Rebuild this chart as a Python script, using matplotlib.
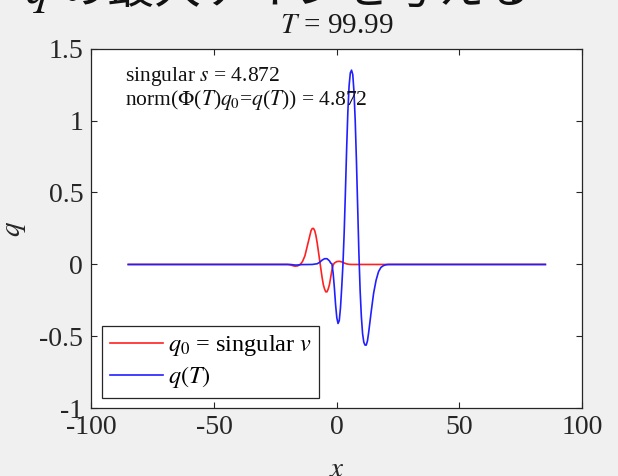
import matplotlib
matplotlib.use("Agg")
import matplotlib.pyplot as plt

# Data
x_q0 = [-85, -20, -19, -18, -17, -16, -15, -14, -13, -12, -11, -10.5, -10, -9.5, -9,
        -8.5, -8, -7.5, -7, -6.5, -6, -5.5, -5, -4.5, -4, -3.5, -3, -2.5, -2, -1.5,
        -1, 0, 1, 2, 3, 4, 5, 6, 85]
q0 = [0, 0, -0.003, -0.008, -0.012, -0.010, -0.002, 0.02, 0.06, 0.13, 0.20, 0.235, 0.25,
      0.25, 0.235, 0.20, 0.15, 0.09, 0.03, -0.03, -0.09, -0.14, -0.17, -0.19, -0.19, -0.17,
      -0.14, -0.09, -0.04, -0.005, 0.01, 0.02, 0.022, 0.018, 0.01, 0.004, 0.001, 0, 0]

x_qT = [-85, -19, -18, -17, -16, -15, -10, -8, -7, -6, -5, -4, -3, -2.5, -2, -1.5, -1,
        -0.5, 0, 0.5, 1, 1.5, 2, 2.5, 3, 3.5, 4, 4.5, 5, 5.5, 6, 6.5, 7, 7.5, 8, 8.5, 9,
        9.5, 10, 10.5, 11, 11.5, 12, 12.5, 13, 13.5, 14, 15, 16, 17, 18, 19, 20, 21, 85]
qT = [0, 0, -0.002, -0.004, -0.004, -0.001, 0, 0.005, 0.015, 0.03, 0.04, 0.04, 0.025,
      0.01, 0.005, -0.06, -0.16, -0.28, -0.37, -0.41, -0.39, -0.30, -0.16, 0.0, 0.22,
      0.50, 0.80, 1.06, 1.24, 1.33, 1.35, 1.32, 1.20, 1.00, 0.72, 0.40, 0.08, -0.18,
      -0.36, -0.48, -0.54, -0.56, -0.56, -0.53, -0.47, -0.40, -0.33, -0.20, -0.11,
      -0.05, -0.02, -0.008, -0.002, 0, 0]

s_val = 4.872
norm_val = 4.872
T_val = 99.99

x_ticks = [-100, -50, 0, 50, 100]
y_ticks = [-1, -0.5, 0, 0.5, 1, 1.5]
y_ticklabels = ["-1", "-0.5", "0", "0.5", "1", "1.5"]

plt.rcParams["font.family"] = ["Liberation Serif", "Noto Sans CJK JP"]
plt.rcParams["mathtext.fontset"] = "stix"
plt.rcParams["axes.unicode_minus"] = False

fig = plt.figure(figsize=(6.18, 4.76), dpi=100, facecolor="#f0f0f0")
ax = fig.add_axes([0.148, 0.142, 0.794, 0.756])

ax.plot(x_q0, q0, color="#ff2020", lw=1.2, label=r"$q_0$ = singular $v$")
ax.plot(x_qT, qT, color="#2020ff", lw=1.2, label=r"$q(T)$")

ax.set_xlim(-100, 100)
ax.set_ylim(-1, 1.5)
ax.set_xticks(x_ticks)
ax.set_yticks(y_ticks)
ax.set_yticklabels(y_ticklabels)
ax.tick_params(direction="in", top=True, right=True, length=4, labelsize=20,
               color="#262626", labelcolor="#262626")
ax.tick_params(axis="x", pad=5)
ax.tick_params(axis="y", pad=6)
for sp in ax.spines.values():
    sp.set_color("#262626")
    sp.set_linewidth(0.9)

ax.set_title(r"$T$ = %.2f" % T_val, fontsize=21, color="#1a1a1a", pad=11)
ax.set_xlabel(r"$x$", fontsize=21, color="#262626", labelpad=12)
ax.set_ylabel(r"$q$", fontsize=21, color="#262626", labelpad=8)

ax.text(0.068, 0.91, r"singular $s$ = %.3f" % s_val, transform=ax.transAxes,
        fontsize=15.5, color="#111111")
ax.text(0.068, 0.843, r"norm($\Phi$($T$)$q_0$=$q$($T$)) = %.3f" % norm_val,
        transform=ax.transAxes, fontsize=15.5, color="#111111")

leg = ax.legend(loc="lower left", bbox_to_anchor=(0.022, 0.03), borderaxespad=0,
                fontsize=17.5, fancybox=False, edgecolor="#262626", framealpha=1,
                handlelength=2.2, handletextpad=0.2, borderpad=0.3, labelspacing=0.25)
leg.get_frame().set_linewidth(0.9)

# slide heading, cut off at the top of the screenshot
fig.text(0.04, 1 - 3 / 476, r"$q$ の最大ゲインを与える", fontsize=34, va="baseline",
         ha="left", color="#111111", family=["Noto Sans CJK JP"])

fig.savefig("out.png", dpi=100, facecolor=fig.get_facecolor())
